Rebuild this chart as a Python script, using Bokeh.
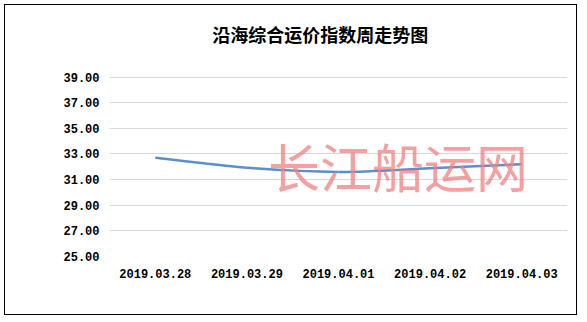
from bokeh.plotting import figure
from bokeh.layouts import column
from bokeh.models import Range1d, FixedTicker, NumeralTickFormatter, Label
from bokeh.embed import file_html
from bokeh.resources import INLINE
import numpy as np

title_text = "沿海综合运价指数周走势图"
watermark = "长江船运网"
dates = ["2019.03.28", "2019.03.29", "2019.04.01", "2019.04.02", "2019.04.03"]
values = [32.70, 31.92, 31.60, 31.88, 32.20]
y_ticks = [25, 27, 29, 31, 33, 35, 37, 39]

xs = np.arange(len(dates)) + 0.5
ys = np.array(values, dtype=float)

# the plot frame extends above the top gridline so that the title fits inside it
p = figure(width=571, height=309, output_backend="svg", toolbar_location=None,
           x_range=Range1d(0, len(dates)), y_range=Range1d(25, 44.58),
           min_border_left=104, min_border_right=9, min_border_top=0, min_border_bottom=58)
p.outline_line_color = None
p.background_fill_color = "white"
p.border_fill_color = "white"

p.add_layout(Label(x=2.30, y=42.35, text=title_text, text_font="Noto Sans CJK SC",
                   text_font_size="18px", text_font_style="bold", text_color="black",
                   text_align="center", text_baseline="middle"))

# axes
p.yaxis.ticker = FixedTicker(ticks=y_ticks)
p.yaxis.formatter = NumeralTickFormatter(format="0.00")
p.xaxis.ticker = FixedTicker(ticks=list(xs))
p.xaxis.major_label_overrides = {float(x): d for x, d in zip(xs, dates)}
for ax in (p.xaxis, p.yaxis):
    ax.axis_line_color = None
    ax.major_tick_line_color = None
    ax.minor_tick_line_color = None
    ax.major_label_text_font = "Liberation Mono"
    ax.major_label_text_font_style = "bold"
    ax.major_label_text_font_size = "12px"
    ax.major_label_text_color = "black"
p.yaxis.major_label_standoff = 4
p.xaxis.major_label_standoff = 6
p.xgrid.grid_line_color = None
p.ygrid.ticker = FixedTicker(ticks=y_ticks)
p.ygrid.grid_line_color = "#D9D9D9"
p.ygrid.grid_line_width = 1

# watermark
p.add_layout(Label(x=3.15, y=32.1, text=watermark, text_font="Noto Sans CJK SC",
                   text_font_size="52px", text_color="#F28080", text_alpha=0.75,
                   text_align="center", text_baseline="middle"))

# smoothed line (Catmull-Rom style bezier segments, as Excel's smoothed line)
P = np.column_stack([xs, ys])
Pext = np.vstack([P[0], P, P[-1]])
x0, y0 = P[:-1, 0], P[:-1, 1]
x1, y1 = P[1:, 0], P[1:, 1]
c0 = P[:-1] + (Pext[2:-1] - Pext[:-3]) / 6.0
c1 = P[1:] - (Pext[3:] - Pext[1:-2]) / 6.0
p.bezier(x0=x0, y0=y0, x1=x1, y1=y1, cx0=c0[:, 0], cy0=c0[:, 1], cx1=c1[:, 0], cy1=c1[:, 1],
         line_color="#5B8FC9", line_width=2.5)

layout = column(p, styles={"border": "1.5px solid black"}, margin=(4, 0, 0, 4))
open("out.html", "w").write(file_html(layout, INLINE))
